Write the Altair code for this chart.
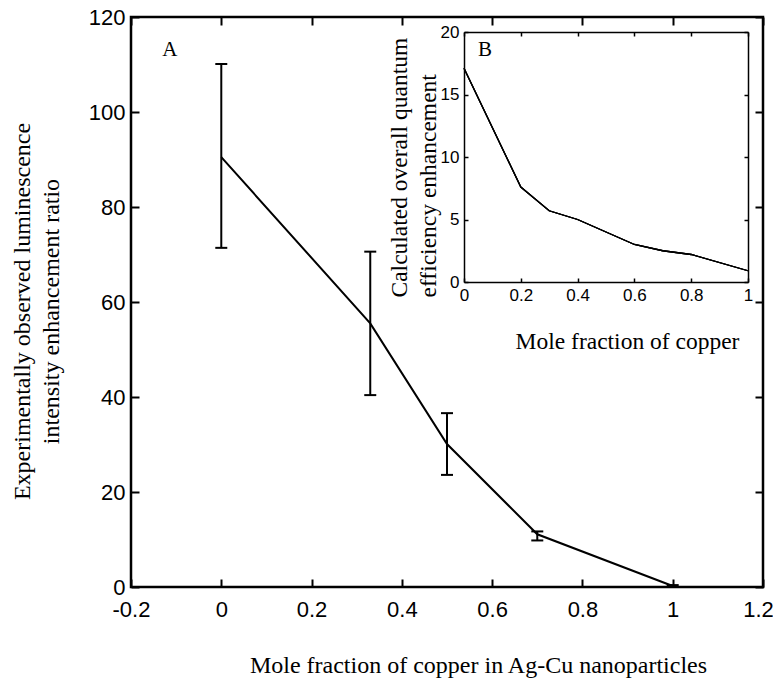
import altair as alt
import pandas as pd

# ---------------- data ----------------
main_x = [0.0, 0.33, 0.5, 0.7, 1.0]
main_y = [90.5, 55.5, 30.1, 11.1, 0.2]
main_lo = [71.4, 40.4, 23.6, 9.8, 0.0]
main_hi = [110.1, 70.6, 36.6, 11.7, 0.4]

inset_x = [0.0, 0.2, 0.3, 0.4, 0.6, 0.7, 0.8, 1.0]
inset_y = [17.1, 7.6, 5.7, 5.0, 3.0, 2.5, 2.2, 0.9]

main_xticks = [-0.2, 0, 0.2, 0.4, 0.6, 0.8, 1.0, 1.2]
main_yticks = [0, 20, 40, 60, 80, 100, 120]
inset_xticks = [0, 0.2, 0.4, 0.6, 0.8, 1.0]
inset_yticks = [0, 5, 10, 15, 20]

panel_a = {"label": ["A"], "x": [-0.114], "y": [113.0]}
panel_b = {"label": ["B"], "x": [0.074], "y": [18.56]}

main_xtitle = "Mole fraction of copper in Ag-Cu nanoparticles"
main_ytitle = ["Experimentally observed luminescence", "intensity enhancement ratio"]
inset_xtitle = "Mole fraction of copper"
inset_ytitle = ["Calculated overall quantum", "efficiency enhancement"]

# ---------------- layout ----------------
W, H = 632, 570
IX0, IX1 = 333, 617     # inset left/right inside plot area
IY0, IY1 = 15, 265      # inset top/bottom inside plot area

main_df = pd.DataFrame({"x": main_x, "y": main_y, "lo": main_lo, "hi": main_hi})
inset_df = pd.DataFrame({"x": inset_x, "y": inset_y})

mx = alt.Scale(domain=[-0.2, 1.2], nice=False, zero=False)
my = alt.Scale(domain=[0, 120], nice=False, zero=False)
ix = alt.Scale(domain=[0, 1], range=[IX0, IX1], nice=False, zero=False)
iy = alt.Scale(domain=[0, 20], range=[IY1, IY0], nice=False, zero=False)

lab_expr = "'' + round(datum.value * 10) / 10"

# main axes
mx_lab = alt.Axis(orient="bottom", values=main_xticks, labelExpr=lab_expr, ticks=False, tickSize=0,
                  domain=False, labelFontSize=22, labelPadding=12,
                  labelOffset={"expr": "datum.value > 1.1 ? -5 : 0"},
                  title=main_xtitle,
                  titleFontSize=24, titleX=347, titleY=85, titleBaseline="alphabetic",
                  titleAlign="center")
my_lab = alt.Axis(orient="left", values=main_yticks, ticks=False, tickSize=0, domain=False,
                  labelFontSize=22, labelPadding=6, title=main_ytitle, titleFontSize=24,
                  titleAngle=270, titleX=-102, titleY=294, titleBaseline="alphabetic",
                  titleAlign="center", titleLineHeight=29)
mx_tick_bottom = alt.Axis(orient="top", offset=-H, values=main_xticks, labels=False, domain=False,
                          tickSize=8, tickWidth=2, title=None)
my_tick_left = alt.Axis(orient="right", offset=-W, values=main_yticks, labels=False, domain=False,
                        tickSize=8, tickWidth=2, title=None)
mx_tick_top = alt.Axis(orient="bottom", offset=-H, values=main_xticks, labels=False, domain=False,
                       tickSize=8, tickWidth=2, title=None)
my_tick_right = alt.Axis(orient="left", offset=-W, values=main_yticks, labels=False, domain=False,
                         tickSize=8, tickWidth=2, title=None)

# inset axes
ix_lab = alt.Axis(orient="bottom", offset=IY1 - H, values=inset_xticks, labelExpr=lab_expr,
                  ticks=False, tickSize=0, domain=True, domainWidth=1.5, labelFontSize=17,
                  labelPadding=5, title=inset_xtitle, titleFontSize=23.5, titleX=496, titleY=66,
                  titleBaseline="alphabetic", titleAlign="center")
iy_lab = alt.Axis(orient="left", offset=-IX0, values=inset_yticks, ticks=False, tickSize=0,
                  domain=True, domainWidth=1.5, labelFontSize=17, labelPadding=5,
                  title=inset_ytitle, titleFontSize=23.5, titleAngle=270, titleAlign="left",
                  titleBaseline="alphabetic", titleX=-58, titleY=280, titleLineHeight=29)
ix_tick_bottom = alt.Axis(orient="top", offset=-IY1, values=inset_xticks, labels=False,
                          domain=False, tickSize=4, tickWidth=1.5, title=None)
ix_top = alt.Axis(orient="bottom", offset=IY0 - H, values=inset_xticks, labels=False,
                  domain=True, domainWidth=1.5, tickSize=4, tickWidth=1.5, title=None)
iy_tick_left = alt.Axis(orient="right", offset=IX0 - W, values=inset_yticks, labels=False,
                        domain=False, tickSize=4, tickWidth=1.5, title=None)
iy_right = alt.Axis(orient="left", offset=-IX1, values=inset_yticks, labels=False,
                    domain=True, domainWidth=1.5, tickSize=4, tickWidth=1.5, title=None)

base_main = alt.Chart(main_df)
line = base_main.mark_line(color="black", strokeWidth=2).encode(
    x=alt.X("x:Q", scale=mx, axis=mx_lab),
    y=alt.Y("y:Q", scale=my, axis=my_lab),
)
bars = base_main.mark_rule(color="black", strokeWidth=2).encode(
    x=alt.X("x:Q", scale=mx, axis=mx_tick_bottom),
    y=alt.Y("lo:Q", scale=my, axis=my_tick_left),
    y2="hi:Q",
)
cap_lo = base_main.mark_tick(orient="horizontal", size=12, thickness=2, color="black", opacity=1).encode(
    x=alt.X("x:Q", scale=mx, axis=mx_tick_top),
    y=alt.Y("lo:Q", scale=my, axis=my_tick_right),
)
cap_hi = base_main.mark_tick(orient="horizontal", size=12, thickness=2, color="black", opacity=1).encode(
    x=alt.X("x:Q", scale=mx, axis=None),
    y=alt.Y("hi:Q", scale=my, axis=None),
)
text_a = alt.Chart(pd.DataFrame(panel_a)).mark_text(
    font="Liberation Serif", fontSize=21, color="black").encode(
    x=alt.X("x:Q", scale=mx, axis=None),
    y=alt.Y("y:Q", scale=my, axis=None),
    text="label:N",
)

base_inset = alt.Chart(inset_df)
iline1 = base_inset.mark_line(color="black", strokeWidth=1.3).encode(
    x=alt.X("x:Q", scale=ix, axis=ix_lab),
    y=alt.Y("y:Q", scale=iy, axis=iy_lab),
)
iline2 = base_inset.mark_line(color="black", strokeWidth=1.3).encode(
    x=alt.X("x:Q", scale=ix, axis=ix_tick_bottom),
    y=alt.Y("y:Q", scale=iy, axis=iy_tick_left),
)
iline3 = base_inset.mark_line(color="black", strokeWidth=1.3).encode(
    x=alt.X("x:Q", scale=ix, axis=ix_top),
    y=alt.Y("y:Q", scale=iy, axis=iy_right),
)
text_b = alt.Chart(pd.DataFrame(panel_b)).mark_text(
    font="Liberation Serif", fontSize=21, color="black").encode(
    x=alt.X("x:Q", scale=ix, axis=None),
    y=alt.Y("y:Q", scale=iy, axis=None),
    text="label:N",
)

chart = alt.layer(
    line, bars, cap_lo, cap_hi, text_a, iline1, iline2, iline3, text_b
).resolve_scale(
    x="independent", y="independent"
).resolve_axis(
    x="independent", y="independent"
).properties(
    width=W, height=H,
    background="white",
    autosize=alt.AutoSizeParams(type="none"),
    padding={"left": 123, "top": 9, "right": 10, "bottom": 91},
).configure_view(
    stroke="black", strokeWidth=2.5
).configure_axis(
    grid=False,
    labelFont="Liberation Sans",
    labelColor="black",
    labelOverlap=False,
    labelFlush=False,
    domainColor="black",
    tickColor="black",
    titleFont="Liberation Serif",
    titleFontWeight="normal",
    titleColor="black",
)

chart.save("out.html", embed_options={"renderer": "svg", "actions": False})
